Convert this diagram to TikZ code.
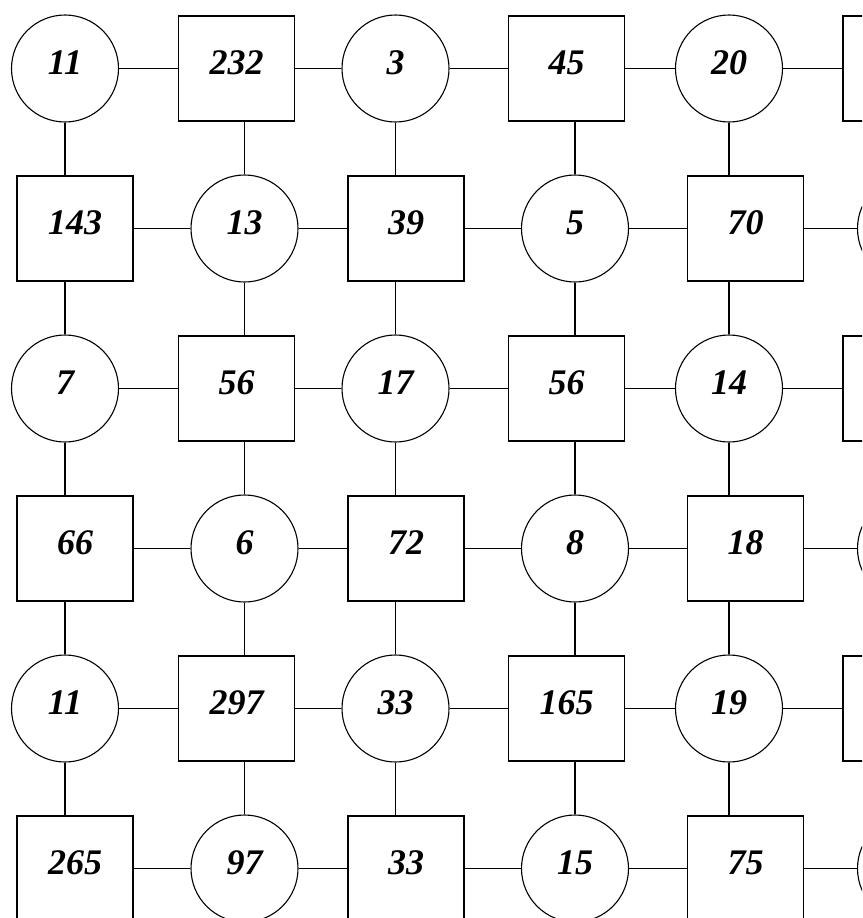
\documentclass[tikz,border=0pt]{standalone}
\usepackage{fontspec}
\setmainfont{Liberation Serif}
\begin{document}
\begin{tikzpicture}[
    x=1pt, y=-1pt,
    cell/.style={draw, line width=1.1pt, inner sep=0pt,
                 font=\fontsize{36}{36}\selectfont\bfseries\itshape,
                 text height=25pt, text depth=13pt},
    circ/.style={cell, circle, minimum size=107pt},
    sq/.style={cell, rectangle, minimum width=116pt, minimum height=105pt},
    link/.style={line width=1.1pt},
]
\useasboundingbox (0,0) rectangle (862,918);
\clip (0,0) rectangle (862,918);

% Row 1
\node[circ] (n11) at (65,68.5)    {11};
\node[sq]   (n12) at (236.5,68.5) {232};
\node[circ] (n13) at (395.5,68.5) {3};
\node[sq]   (n14) at (566.5,68.5) {45};
\node[circ] (n15) at (729,68.5)   {20};
\node[sq]   (n16) at (901,68.5)   {};

% Row 2
\node[sq]   (n21) at (75,228.5)    {143};
\node[circ] (n22) at (244.5,228.5) {13};
\node[sq]   (n23) at (406,228.5)   {39};
\node[circ] (n24) at (575,228.5)   {5};
\node[sq]   (n25) at (745.5,228.5) {70};
\node[circ] (n26) at (911,228.5)   {};

% Row 3
\node[circ] (n31) at (65,388.5)    {7};
\node[sq]   (n32) at (236.5,388.5) {56};
\node[circ] (n33) at (395.5,388.5) {17};
\node[sq]   (n34) at (566.5,388.5) {56};
\node[circ] (n35) at (729,388.5)   {14};
\node[sq]   (n36) at (901,388.5)   {};

% Row 4
\node[sq]   (n41) at (75,548.5)    {66};
\node[circ] (n42) at (244.5,548.5) {6};
\node[sq]   (n43) at (406,548.5)   {72};
\node[circ] (n44) at (575,548.5)   {8};
\node[sq]   (n45) at (745.5,548.5) {18};
\node[circ] (n46) at (911,548.5)   {};

% Row 5
\node[circ] (n51) at (65,708.5)    {11};
\node[sq]   (n52) at (236.5,708.5) {297};
\node[circ] (n53) at (395.5,708.5) {33};
\node[sq]   (n54) at (566.5,708.5) {165};
\node[circ] (n55) at (729,708.5)   {19};
\node[sq]   (n56) at (901,708.5)   {};

% Row 6
\node[sq]   (n61) at (75,868.5)    {265};
\node[circ] (n62) at (244.5,868.5) {97};
\node[sq]   (n63) at (406,868.5)   {33};
\node[circ] (n64) at (575,868.5)   {15};
\node[sq]   (n65) at (745.5,868.5) {75};
\node[circ] (n66) at (911,868.5)   {};

% Horizontal links
\foreach \r in {1,...,6} {
  \foreach \c in {1,...,5} {
    \pgfmathtruncatemacro\cnext{\c+1}
    \draw[link] (n\r\c) -- (n\r\cnext);
  }
}

% Vertical links, at the circle's x
\foreach \r in {1,...,5} {
  \foreach \c in {1,...,6} {
    \pgfmathtruncatemacro\rnext{\r+1}
    \pgfmathtruncatemacro\oddsum{mod(\r+\c,2)}
    \ifnum\oddsum=0 \edef\k{n\r\c}\else\edef\k{n\rnext\c}\fi
    \draw[link] (n\r\c.south -| \k) -- (n\rnext\c.north -| \k);
  }
}
\end{tikzpicture}
\end{document}
